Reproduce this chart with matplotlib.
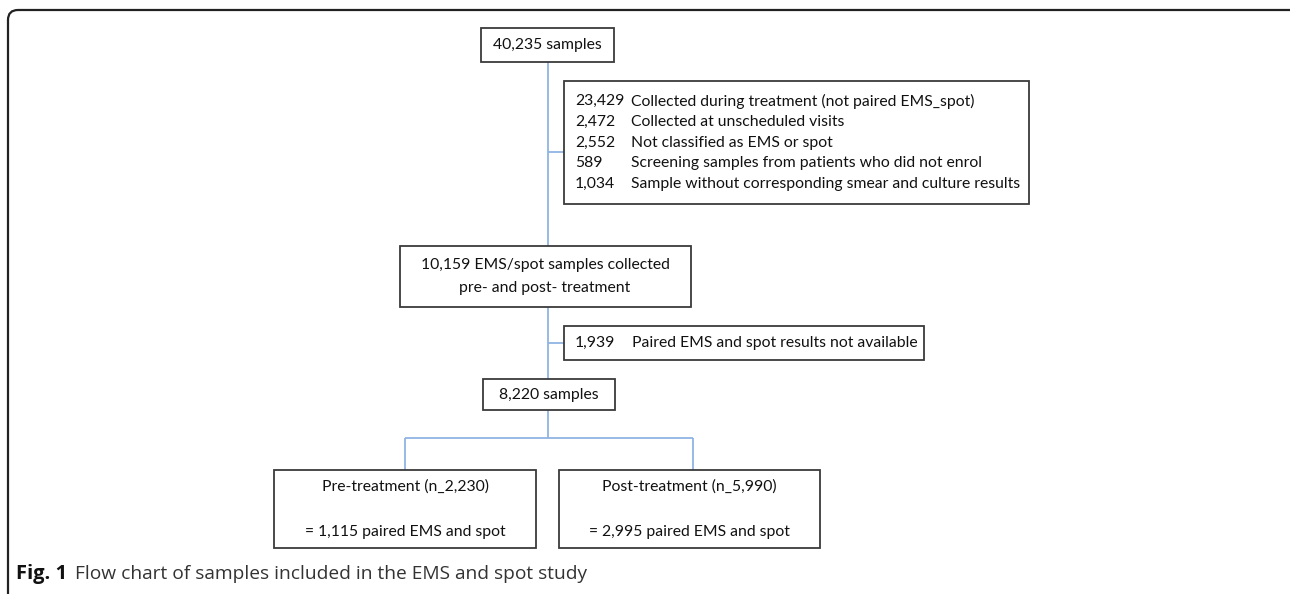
import matplotlib.pyplot as plt
from matplotlib.patches import Rectangle, FancyBboxPatch

# counts shown in the flow chart
total = "40,235"
excluded_counts = ["23,429", "2,472", "2,552", "589", "1,034"]
excluded_reasons = [
    "Collected during treatment (not paired EMS_spot)",
    "Collected at unscheduled visits",
    "Not classified as EMS or spot",
    "Screening samples from patients who did not enrol",
    "Sample without corresponding smear and culture results",
]
ems_spot = "10,159"
unpaired = "1,939"
unpaired_reason = "Paired EMS and spot results not available"
analysed = "8,220"
group_names = ["Pre-treatment", "Post-treatment"]
group_n = ["2,230", "5,990"]
group_pairs = ["1,115", "2,995"]

BOX_EDGE = "#3a3a3a"
LINK = "#8fb4e3"
FONT = "Lato"
FS = 11.3

fig = plt.figure(figsize=(12.9, 5.94), dpi=100)
ax = fig.add_axes([0, 0, 1, 1])
ax.set_xlim(0, 1290)
ax.set_ylim(594, 0)
ax.axis("off")


def box(x0, y0, x1, y1):
    ax.add_patch(Rectangle((x0, y0), x1 - x0, y1 - y0, facecolor="white",
                           edgecolor=BOX_EDGE, linewidth=1.3, zorder=3))


def link(xs, ys):
    ax.plot(xs, ys, color=LINK, linewidth=1.3, zorder=2, solid_capstyle="butt")


def txt(x, y, s, ha="center", **kw):
    ax.text(x, y, s, ha=ha, va="center", fontsize=FS, family=FONT,
            color="#111111", zorder=4, **kw)


# outer frame
ax.add_patch(FancyBboxPatch((8, 10), 1300, 600, boxstyle="round,pad=0,rounding_size=10",
                            facecolor="none", edgecolor="#222222", linewidth=1.6))

# connectors
link([548, 548], [62, 246])
link([548, 564], [152, 152])
link([548, 548], [307, 379])
link([548, 564], [343, 343])
link([548, 548], [410, 438])
link([405, 693], [438, 438])
link([405, 405], [438, 470])
link([693, 693], [438, 470])

# top box
box(481, 28, 614, 62)
txt(547, 45, f"{total} samples")

# exclusions
box(564, 81, 1029, 204)
for i, (c, r) in enumerate(zip(excluded_counts, excluded_reasons)):
    y = 101 + i * 20.8
    txt(575, y, c, ha="left")
    txt(631, y, r, ha="left")

# EMS/spot box
box(400, 246, 691, 307)
txt(545, 265, f"{ems_spot} EMS/spot samples collected")
txt(545, 288, "pre- and post- treatment")

# unpaired
box(564, 326, 924, 360)
txt(575, 343, unpaired, ha="left")
txt(632, 343, unpaired_reason, ha="left")

# analysed
box(483, 379, 615, 410)
txt(549, 395, f"{analysed} samples")

# group boxes
for x0, x1, name, n, p in zip([274, 559], [536, 820], group_names, group_n, group_pairs):
    box(x0, 470, x1, 548)
    cx = (x0 + x1) / 2
    txt(cx, 487, f"{name} (n_{n})")
    txt(cx, 532, f"= {p} paired EMS and spot")

# caption
ax.text(16, 574, "Fig. 1", ha="left", va="center", fontsize=14.5, family="Open Sans",
        fontweight="bold", color="#111111")
ax.text(75, 574, "Flow chart of samples included in the EMS and spot study", ha="left",
        va="center", fontsize=13.8, family="Open Sans", color="#333333")

fig.savefig("out.png", dpi=100)
